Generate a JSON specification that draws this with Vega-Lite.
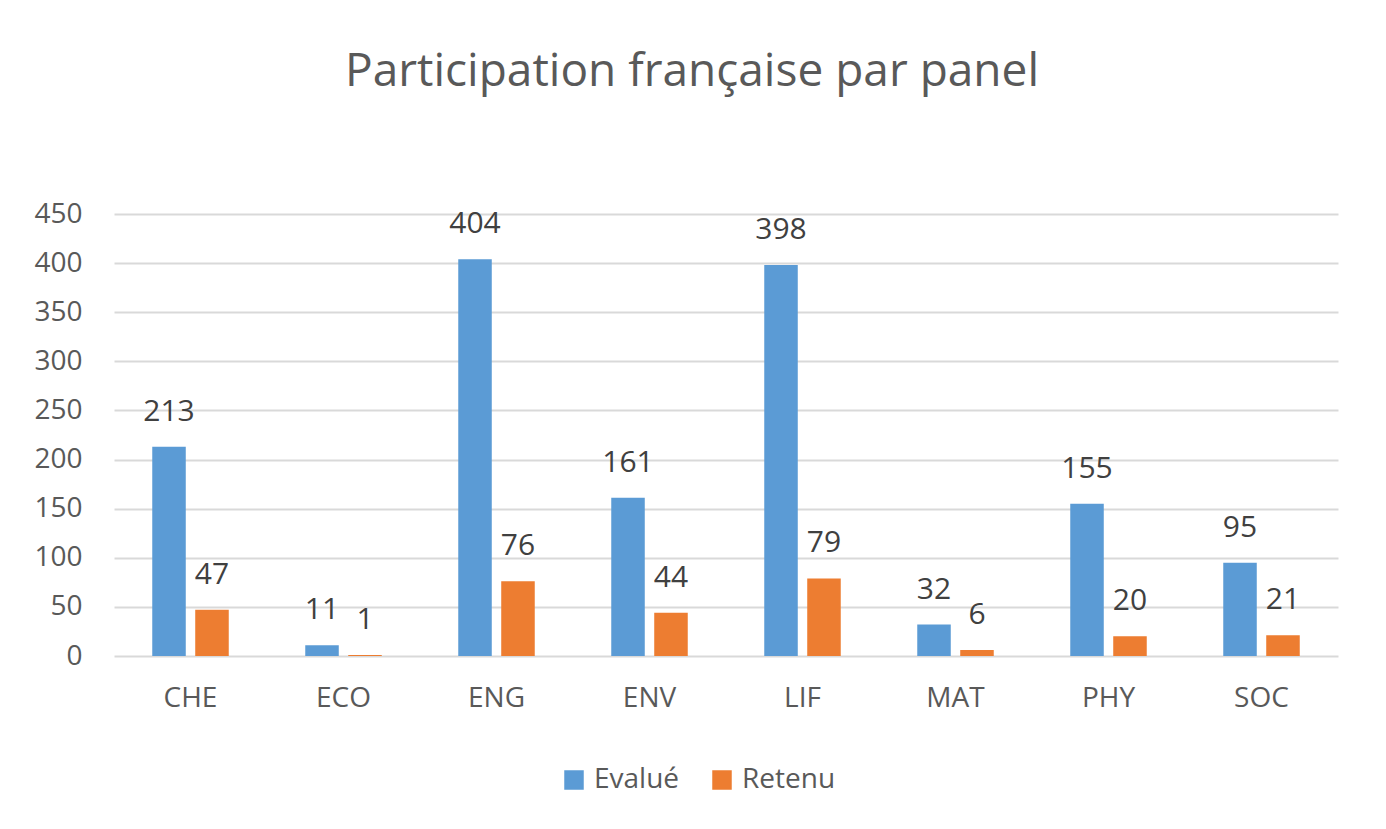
{
  "$schema": "https://vega.github.io/schema/vega-lite/v6.json",
  "width": 1224,
  "height": 442,
  "autosize": {"type": "none"},
  "padding": {"left": 114, "top": 214, "right": 48, "bottom": 173},
  "background": "white",
  "title": {
    "text": "Participation française par panel",
    "fontSize": 46,
    "font": "Open Sans",
    "fontWeight": "normal",
    "color": "#595959",
    "anchor": "middle",
    "dx": -34,
    "offset": 104
  },
  "data": {
    "values": [
      {"panel": "CHE", "serie": "Evalué", "valeur": 213},
      {"panel": "CHE", "serie": "Retenu", "valeur": 47},
      {"panel": "ECO", "serie": "Evalué", "valeur": 11},
      {"panel": "ECO", "serie": "Retenu", "valeur": 1},
      {"panel": "ENG", "serie": "Evalué", "valeur": 404},
      {"panel": "ENG", "serie": "Retenu", "valeur": 76},
      {"panel": "ENV", "serie": "Evalué", "valeur": 161},
      {"panel": "ENV", "serie": "Retenu", "valeur": 44},
      {"panel": "LIF", "serie": "Evalué", "valeur": 398},
      {"panel": "LIF", "serie": "Retenu", "valeur": 79},
      {"panel": "MAT", "serie": "Evalué", "valeur": 32},
      {"panel": "MAT", "serie": "Retenu", "valeur": 6},
      {"panel": "PHY", "serie": "Evalué", "valeur": 155},
      {"panel": "PHY", "serie": "Retenu", "valeur": 20},
      {"panel": "SOC", "serie": "Evalué", "valeur": 95},
      {"panel": "SOC", "serie": "Retenu", "valeur": 21}
    ]
  },
  "encoding": {
    "x": {
      "field": "panel",
      "type": "nominal",
      "sort": null,
      "scale": {"paddingInner": 0.5, "paddingOuter": 0.25},
      "axis": {
        "title": null,
        "labelAngle": 0,
        "domain": false,
        "ticks": false,
        "tickSize": 0,
        "labelPadding": 28,
        "labelFont": "Open Sans",
        "labelFontSize": 28,
        "labelColor": "#595959"
      }
    },
    "xOffset": {
      "field": "serie",
      "type": "nominal",
      "scale": {"paddingInner": 0.22, "paddingOuter": 0}
    },
    "y": {
      "field": "valeur",
      "type": "quantitative",
      "scale": {"domain": [0, 450]},
      "axis": {
        "title": null,
        "values": [0, 50, 100, 150, 200, 250, 300, 350, 400, 450],
        "domain": false,
        "ticks": false,
        "tickSize": 0,
        "labelPadding": 32,
        "labelFont": "Open Sans",
        "labelFontSize": 28,
        "labelColor": "#595959",
        "gridColor": "#d9d9d9",
        "gridWidth": 2
      }
    }
  },
  "layer": [
    {
      "mark": {"type": "bar"},
      "encoding": {
        "color": {
          "field": "serie",
          "type": "nominal",
          "scale": {"domain": ["Evalué", "Retenu"], "range": ["#5B9BD5", "#ED7D31"]},
          "legend": {
            "title": null,
            "orient": "none",
            "direction": "horizontal",
            "legendX": 446,
            "legendY": 552,
            "symbolType": "square",
            "symbolSize": 380,
            "symbolStrokeWidth": 0,
            "labelFont": "Open Sans",
            "labelFontSize": 28,
            "labelColor": "#595959",
            "labelOffset": 6,
            "columnPadding": 28
          }
        }
      }
    },
    {
      "mark": {
        "type": "text",
        "baseline": "bottom",
        "dy": -20,
        "font": "Open Sans",
        "fontSize": 30,
        "color": "#404040"
      },
      "encoding": {
        "text": {"field": "valeur", "type": "quantitative"}
      }
    }
  ],
  "config": {
    "view": {"stroke": null}
  }
}
